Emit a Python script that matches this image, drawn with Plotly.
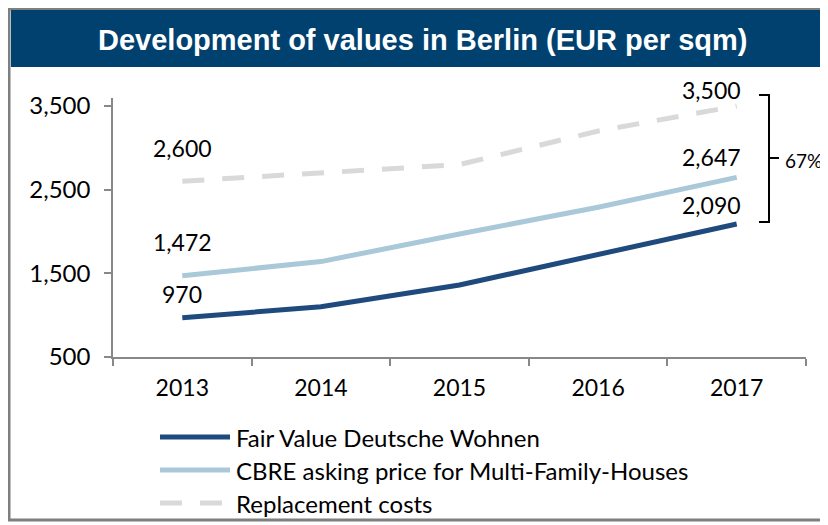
import plotly.graph_objects as go

years = ["2013", "2014", "2015", "2016", "2017"]
fair_value = [970, 1100, 1360, 1730, 2090]
cbre_price = [1472, 1640, 1970, 2290, 2647]
replacement = [2600, 2700, 2800, 3200, 3500]
series_names = ["Fair Value Deutsche Wohnen",
                "CBRE asking price for Multi-Family-Houses",
                "Replacement costs"]
title_text = "Development of values in Berlin (EUR per sqm)"
pct_label = "67%"

FONT = "Lato"
colors = ["#1F4A7E", "#A9C9D9", "#D9D9D9"]
dashes = ["solid", "solid", "22px,18px"]
series = [fair_value, cbre_price, replacement]

fig = go.Figure()
for name, vals, c, d in zip(series_names, series, colors, dashes):
    fig.add_trace(go.Scatter(x=years, y=vals, mode="lines", name=name,
                             line=dict(color=c, width=5, dash=d),
                             showlegend=False))

label_shift = {0: (24, 19), 1: (34, 20), 2: (33, 16)}
for i, vals in enumerate(series):
    s_first, s_last = label_shift[i]
    for idx, sh, xs in ((0, s_first, 0), (len(years) - 1, s_last, -25)):
        fig.add_annotation(x=idx, y=vals[idx], text=f"{vals[idx]:,}",
                           showarrow=False, yshift=sh, xshift=xs,
                           font=dict(family=FONT, size=23, color="#000"))

# page has an 8px body margin; figure coords = screen coords - 8
OFF = 8
W, H = 820, 517
L, R, T, B = 105, 22, 90, 168
pw, ph = W - L - R, H - T - B
def px(x): return (x - OFF - L) / pw
def py(y): return (H - B - (y - OFF)) / ph

shapes = []
shapes.append(dict(type="rect", xref="paper", yref="paper",
                   x0=px(9), x1=px(840), y0=py(520), y1=py(9),
                   line=dict(color="#7F7F7F", width=3), fillcolor="rgba(0,0,0,0)", layer="below"))
shapes.append(dict(type="rect", xref="paper", yref="paper",
                   x0=px(11), x1=px(840), y0=py(67), y1=py(10),
                   line=dict(width=0), fillcolor="#00416F", layer="below"))
bx0, bx1, bx2 = px(759), px(769), px(779)
by0, by1, bym = py(95), py(222), py(158)
shapes.append(dict(type="path", xref="paper", yref="paper",
                   path=(f"M{bx0},{by0} L{bx1},{by0} L{bx1},{by1} L{bx0},{by1} "
                         f"M{bx1},{bym} L{bx2},{bym}"),
                   line=dict(color="#000", width=2)))
leg_y = [437, 470, 503]
for name, c, d, ly in zip(series_names, colors, dashes, leg_y):
    shapes.append(dict(type="line", xref="paper", yref="paper",
                       x0=px(160), x1=px(230), y0=py(ly), y1=py(ly),
                       line=dict(color=c, width=5, dash=d)))
    fig.add_annotation(xref="paper", yref="paper", x=px(234), y=py(ly),
                       text=name, showarrow=False, xanchor="left", yanchor="middle",
                       font=dict(family=FONT, size=24, color="#000"))

fig.add_annotation(xref="paper", yref="paper", x=px(783), y=py(160), text=pct_label,
                   showarrow=False, xanchor="left", yanchor="middle",
                   font=dict(family=FONT, size=19, color="#000"))
fig.add_annotation(xref="paper", yref="paper", x=px(422), y=py(40), text=f"<b>{title_text}</b>",
                   showarrow=False, xanchor="center", yanchor="middle",
                   font=dict(family="Liberation Sans, Arial", size=29, color="#FFFFFF"))

fig.update_layout(
    width=W, height=H, margin=dict(l=L, r=R, t=T, b=B, autoexpand=False),
    paper_bgcolor="white", plot_bgcolor="white",
    shapes=shapes, showlegend=False,
    xaxis=dict(type="category", range=[-0.5, 4.5], autorange=False, showgrid=False,
               showline=True, linecolor="#888", linewidth=1.5,
               ticks="outside", tickson="boundaries", ticklen=7, tickcolor="#888", tickwidth=1.5,
               tickfont=dict(family=FONT, size=23, color="#000"), tickangle=0,
               ticklabelstandoff=10, zeroline=False),
    yaxis=dict(range=[500, 3595], autorange=False, tick0=500, dtick=1000, showgrid=False,
               showline=True, linecolor="#888", linewidth=1.5, ticks="outside", ticklen=7,
               tickcolor="#888", tickwidth=1.5, tickformat=",", zeroline=False,
               ticklabelstandoff=9,
               tickfont=dict(family=FONT, size=24, color="#000")),
)
fig.write_html("out.html")
